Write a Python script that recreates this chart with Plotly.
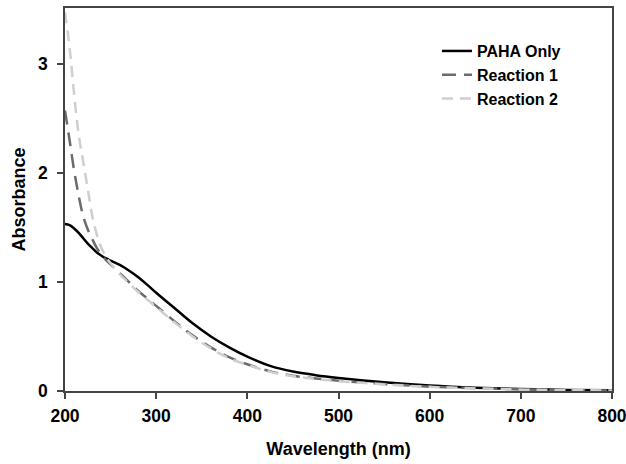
import plotly.graph_objects as go

wavelength = [200, 205, 210, 215, 220, 225, 230, 235, 240, 245, 250, 260, 270, 280, 290,
              300, 320, 340, 360, 380, 400, 425, 450, 475, 500, 550, 600, 650, 700, 750, 800]

paha_only = [1.53, 1.52, 1.49, 1.45, 1.40, 1.35, 1.31, 1.27, 1.24, 1.215, 1.195, 1.155, 1.105, 1.045, 0.975,
             0.90, 0.76, 0.62, 0.50, 0.40, 0.315, 0.23, 0.178, 0.145, 0.12, 0.08, 0.05, 0.03, 0.018, 0.01, 0.006]

reaction_1 = [2.57, 2.30, 2.02, 1.79, 1.60, 1.48, 1.39, 1.31, 1.25, 1.20, 1.16, 1.08, 1.00, 0.92, 0.85,
              0.78, 0.64, 0.51, 0.40, 0.31, 0.245, 0.18, 0.14, 0.115, 0.095, 0.065, 0.04, 0.025, 0.015, 0.008, 0.005]

reaction_2 = [3.47, 3.15, 2.72, 2.35, 2.10, 1.85, 1.60, 1.43, 1.31, 1.23, 1.17, 1.07, 0.99, 0.91, 0.84,
              0.77, 0.63, 0.50, 0.39, 0.30, 0.24, 0.175, 0.135, 0.11, 0.09, 0.06, 0.038, 0.024, 0.014, 0.008, 0.005]

series_names = ["PAHA Only", "Reaction 1", "Reaction 2"]
x_ticks = [200, 300, 400, 500, 600, 700, 800]
y_ticks = [0, 1, 2, 3]

FONT = "Liberation Sans, Arial, sans-serif"

fig = go.Figure()
fig.add_trace(go.Scatter(x=wavelength, y=paha_only, name=series_names[0], mode="lines",
                         line=dict(color="#000000", width=2.5, shape="spline", smoothing=1.0)))
fig.add_trace(go.Scatter(x=wavelength, y=reaction_1, name=series_names[1], mode="lines",
                         line=dict(color="#6b6b6b", width=2.5, dash="14px,8px", shape="spline", smoothing=1.0)))
fig.add_trace(go.Scatter(x=wavelength, y=reaction_2, name=series_names[2], mode="lines",
                         line=dict(color="#cfcfcf", width=2.5, dash="11px,7px", shape="spline", smoothing=1.0)))

fig.update_layout(
    width=626, height=464,
    margin=dict(l=65, r=14, t=8, b=73),
    paper_bgcolor="white", plot_bgcolor="white",
    font=dict(family=FONT, size=16, color="black"),
    showlegend=True,
    legend=dict(x=0.68, y=0.932, xanchor="left", yanchor="top",
                bgcolor="rgba(0,0,0,0)", borderwidth=0,
                font=dict(family=FONT, size=16, color="black", weight="bold"),
                tracegroupgap=0, itemwidth=30),
    xaxis=dict(range=[200, 800], tickvals=x_ticks, ticks="outside", ticklen=6, tickwidth=1.5,
               tickcolor="#444", showline=True, linecolor="#444", linewidth=1.5, mirror=True,
               showgrid=False, zeroline=False, automargin=False, ticklabelstandoff=2,
               ticklabeloverflow="allow",
               tickfont=dict(family=FONT, size=17.5, weight="bold"),
               title=dict(text="Wavelength (nm)", font=dict(family=FONT, size=18, weight="bold"),
                          standoff=18)),
    yaxis=dict(range=[0, 3.51], tickvals=y_ticks, ticks="outside", ticklen=6, tickwidth=1.5,
               tickcolor="#444", showline=True, linecolor="#444", linewidth=1.5, mirror=True,
               showgrid=False, zeroline=False, automargin=False, ticklabelstandoff=6,
               ticklabeloverflow="allow",
               tickfont=dict(family=FONT, size=17.5, weight="bold"),
               title=dict(text="Absorbance", font=dict(family=FONT, size=18, weight="bold"),
                          standoff=8)),
)

# remove the browser's default 8px body margin so the figure fills the window exactly
fig.write_html("out.html", config={"displayModeBar": False},
               post_script="document.body.style.margin='0';document.body.style.overflow='hidden';")
